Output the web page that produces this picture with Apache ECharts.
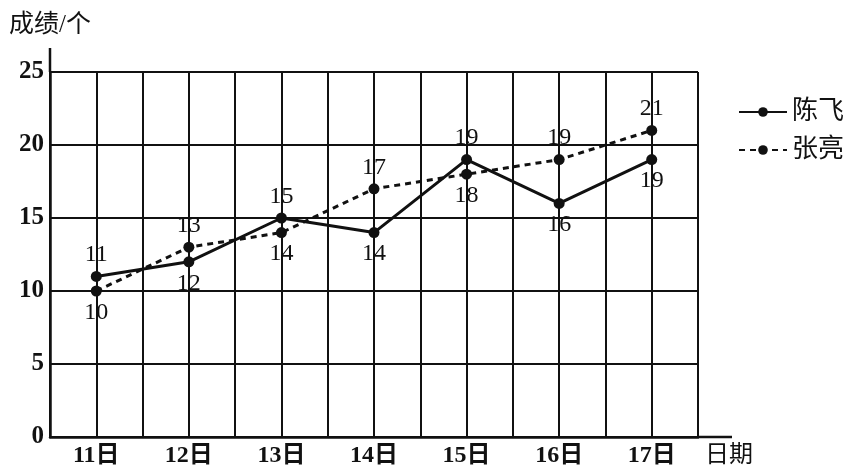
<!DOCTYPE html>
<html>
<head>
<meta charset="utf-8">
<script src="https://cdn.jsdelivr.net/npm/echarts@6/dist/echarts.min.js"></script>
<style>
  html, body { margin: 0; padding: 0; background: #fff; }
  #chart { width: 851px; height: 471px; }
</style>
</head>
<body>
<div id="chart"></div>
<script>
// 日期 (x) 与两人成绩
const days = [11, 12, 13, 14, 15, 16, 17];
const chenFei = [11, 12, 15, 14, 19, 16, 19];
const zhangLiang = [10, 13, 14, 17, 18, 19, 21];
// 标签放在点的上方还是下方
const chenFeiLabelPos = ["top", "bottom", "top", "bottom", "top", "bottom", "bottom"];
const zhangLiangLabelPos = ["bottom", "top", "bottom", "top", "bottom", "top", "top"];

const numFont = "'Liberation Serif', 'DejaVu Serif', serif";
const cjkFont = "'Liberation Serif', 'Noto Sans CJK SC', serif";

const chart = echarts.init(document.getElementById("chart"));

function toPoints(vals, pos) {
  return vals.map((v, i) => ({
    value: [days[i], v],
    label: { position: pos[i] },
  }));
}

const pointLabel = {
  show: true,
  fontFamily: numFont,
  fontSize: 24,
  color: "#111",
  distance: 4,
  formatter: (p) => p.value[1],
};

chart.setOption({
  backgroundColor: "#fff",
  animation: false,
  grid: { left: 50, right: 153, top: 72, bottom: 34 },
  legend: {
    orient: "vertical",
    left: 733,
    top: 94,
    itemWidth: 48,
    itemHeight: 12,
    itemGap: 12,
    textStyle: { fontFamily: cjkFont, fontSize: 26, color: "#111" },
    data: ["陈飞", "张亮"],
  },
  xAxis: {
    type: "value",
    min: 10.5,
    max: 17.5,
    interval: 0.5,
    name: "日期",
    nameLocation: "end",
    nameGap: 7,
    nameTextStyle: {
      fontFamily: cjkFont,
      fontSize: 24,
      color: "#111",
      verticalAlign: "top",
      padding: [7, 0, 0, 0],
    },
    axisLine: { lineStyle: { color: "#111", width: 2.5 } },
    axisTick: { show: false },
    axisLabel: {
      fontFamily: cjkFont,
      fontSize: 24,
      fontWeight: "bold",
      color: "#111",
      margin: 7,
      formatter: (v) => (Number.isInteger(v) ? v + "日" : ""),
    },
    splitLine: { show: true, lineStyle: { color: "#111", width: 2 } },
  },
  yAxis: {
    type: "value",
    min: 0,
    max: 25,
    interval: 5,
    name: "成绩/个",
    nameLocation: "end",
    nameGap: 34,
    nameTextStyle: { fontFamily: cjkFont, fontSize: 25, color: "#111", padding: [0, 0, 0, 0] },
    axisLine: { show: true, lineStyle: { color: "#111", width: 2.5 } },
    axisTick: { show: false },
    axisLabel: { fontFamily: numFont, fontSize: 25, fontWeight: "bold", color: "#111", margin: 6 },
    splitLine: { show: true, lineStyle: { color: "#111", width: 2 } },
  },
  // 轴线超出网格的部分
  graphic: [
    { type: "line", shape: { x1: 50, y1: 48, x2: 50, y2: 72 }, style: { stroke: "#111", lineWidth: 2.5 } },
    { type: "line", shape: { x1: 698, y1: 437, x2: 732, y2: 437 }, style: { stroke: "#111", lineWidth: 2.5 } },
  ],
  series: [
    {
      name: "陈飞",
      type: "line",
      data: toPoints(chenFei, chenFeiLabelPos),
      symbol: "circle",
      symbolSize: 11,
      itemStyle: { color: "#111" },
      lineStyle: { color: "#111", width: 3 },
      label: pointLabel,
      z: 3,
    },
    {
      name: "张亮",
      type: "line",
      data: toPoints(zhangLiang, zhangLiangLabelPos),
      symbol: "circle",
      symbolSize: 11,
      itemStyle: { color: "#111" },
      lineStyle: { color: "#111", width: 3, type: [6, 5] },
      label: pointLabel,
      z: 3,
    },
  ],
});
</script>
</body>
</html>
